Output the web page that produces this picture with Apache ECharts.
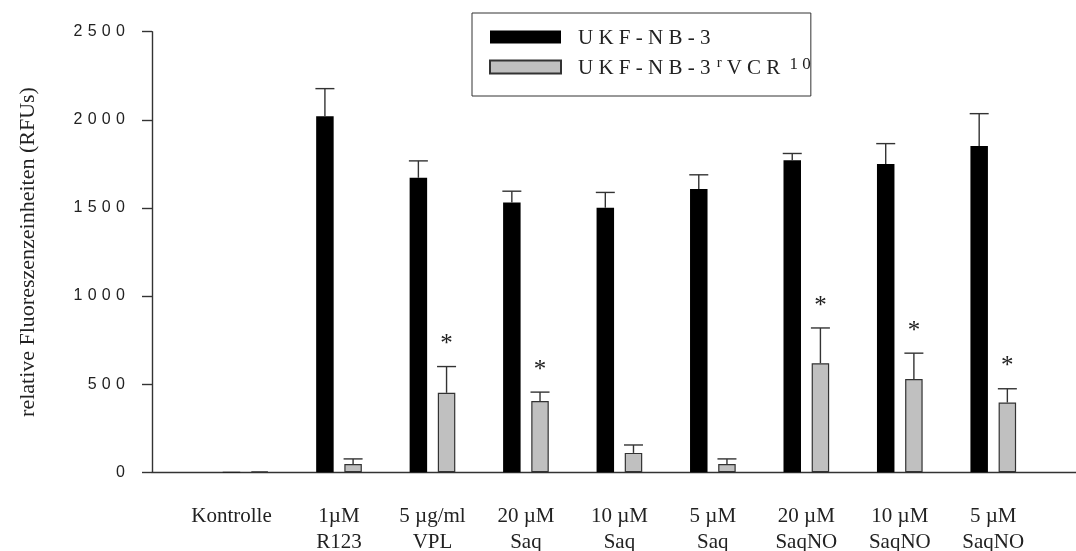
<!DOCTYPE html>
<html>
<head>
<meta charset="utf-8">
<script src="https://cdn.jsdelivr.net/npm/echarts@6/dist/echarts.min.js"></script>
<style>
html,body{margin:0;padding:0;background:#fff;}
#chart{width:1076px;height:551px;}
</style>
</head>
<body>
<div id="chart"></div>
<script>
// ---- data ----
var categories = ['Kontrolle', '1\u00b5M\nR123', '5 \u00b5g/ml\nVPL', '20 \u00b5M\nSaq', '10 \u00b5M\nSaq', '5 \u00b5M\nSaq', '20 \u00b5M\nSaqNO', '10 \u00b5M\nSaqNO', '5 \u00b5M\nSaqNO'];
var seriesNames = ['UKF-NB-3', 'UKF-NB-3rVCR10'];
var parentMean = [3, 2020, 1671, 1531, 1501, 1607, 1771, 1750, 1852];
var parentErr  = [0, 157, 96, 64, 87, 81, 38, 115, 183];
var resistMean = [5, 47, 451, 404, 110, 47, 619, 529, 396];
var resistErr  = [0, 29, 149, 51, 45, 29, 200, 147, 78];
var significant = [false, false, true, true, false, false, true, true, true];
var yTicks = [0, 500, 1000, 1500, 2000, 2500];
var yTitle = 'relative Fluoreszenzeinheiten (RFUs)';

// ---- style constants ----
var BAR_W = 17.5;
var BAR_GAP = 0.61;
var OFFSET = BAR_W * (1 + BAR_GAP) / 2;
var CAP_W = 19;
var STAR_GAP = 22;
var INK = '#333';

function errData(mean, err) {
  return mean.map(function (m, i) { return [i, m, err[i], significant[i] ? 1 : 0]; });
}

function errRender(sign, withStar) {
  return function (params, api) {
    var i = api.value(0), m = api.value(1), e = api.value(2), sig = api.value(3);
    var base = api.coord([i, m]);
    var top = api.coord([i, m + e]);
    var x = base[0] + sign * OFFSET;
    var children = [];
    if (e > 0) {
      children.push({type: 'line', shape: {x1: x, y1: base[1], x2: x, y2: top[1]}, style: {stroke: INK, lineWidth: 1.4}});
      children.push({type: 'line', shape: {x1: x - CAP_W / 2, y1: top[1], x2: x + CAP_W / 2, y2: top[1]}, style: {stroke: INK, lineWidth: 1.4}});
    }
    if (withStar && sig) {
      children.push({type: 'text', x: x, y: top[1] - STAR_GAP, style: {text: '*', fontFamily: 'Liberation Serif', fontSize: 25, fill: '#222', align: 'center', verticalAlign: 'middle'}});
    }
    return {type: 'group', children: children};
  };
}

var chart = echarts.init(document.getElementById('chart'), null, {renderer: 'canvas'});
var yMin = yTicks[0], yMax = yTicks[yTicks.length - 1], yStep = yTicks[1] - yTicks[0];

chart.setOption({
  animation: false,
  backgroundColor: '#fff',
  grid: [
    {left: 198.8, right: 36, top: 31.7, bottom: 78.7, outerBoundsMode: 'none', containLabel: false},
    {left: 152, right: 0, top: 31.7, bottom: 78.7, outerBoundsMode: 'none', containLabel: false}
  ],
  legend: {
    orient: 'vertical',
    left: 472, top: 13,
    icon: 'rect',
    itemWidth: 71, itemHeight: 13, itemGap: 6,
    padding: [12, 0, 17, 17],
    borderColor: INK, borderWidth: 1, backgroundColor: '#fff',
    selectedMode: false,
    data: seriesNames,
    formatter: function (name) {
      if (name === seriesNames[1]) return '{a|U K F - N B - 3 }{s|r}{a|V C R }{t|1 0}';
      return '{a|U K F - N B - 3}';
    },
    textStyle: {
      fontFamily: 'Liberation Serif', fontSize: 21, color: '#222', padding: [0, 0, 0, 12], lineHeight: 24,
      rich: {
        a: {fontFamily: 'Liberation Serif', fontSize: 21, color: '#222', lineHeight: 24, verticalAlign: 'bottom'},
        s: {fontFamily: 'Liberation Serif', fontSize: 15, color: '#222', lineHeight: 24, verticalAlign: 'bottom', padding: [0, 5, 8, 1]},
        t: {fontFamily: 'Liberation Serif', fontSize: 17, color: '#222', lineHeight: 24, verticalAlign: 'bottom', padding: [0, 0, 6, 4]}
      }
    }
  },
  xAxis: [
    {
      type: 'category', gridIndex: 0, data: categories,
      axisLine: {show: false}, axisTick: {show: false},
      axisLabel: {
        interval: 0, margin: 31, fontFamily: 'Liberation Serif', fontSize: 21, lineHeight: 26, color: '#222',
        formatter: function (v, idx) { return idx === 0 ? '{k|' + v + '}' : v; },
        rich: {k: {fontFamily: 'Liberation Serif', fontSize: 21, lineHeight: 26, color: '#222', padding: [0, 28, 0, 0]}}
      }
    },
    {
      type: 'value', gridIndex: 1, min: 0, max: 1,
      axisLine: {show: true, lineStyle: {color: INK, width: 1.4}},
      axisTick: {show: false}, axisLabel: {show: false}, splitLine: {show: false}
    }
  ],
  yAxis: [
    {type: 'value', gridIndex: 0, min: yMin, max: yMax, interval: yStep, show: false},
    {
      type: 'value', gridIndex: 1, min: yMin, max: yMax, interval: yStep,
      axisLine: {show: true, lineStyle: {color: INK, width: 1.4}},
      axisTick: {show: true, inside: false, length: 10, lineStyle: {color: INK, width: 1.4}},
      splitLine: {show: false},
      axisLabel: {
        margin: 27, fontFamily: 'Liberation Sans', fontSize: 16, color: '#222',
        formatter: function (v) { return String(v).split('').join('\u2004'); }
      },
      name: yTitle, nameLocation: 'middle', nameGap: 113,
      nameTextStyle: {fontFamily: 'Liberation Serif', fontSize: 22, color: '#222'}
    }
  ],
  series: [
    {
      name: seriesNames[0], type: 'bar', xAxisIndex: 0, yAxisIndex: 0,
      data: parentMean, barWidth: BAR_W, barGap: (BAR_GAP * 100) + '%',
      itemStyle: {color: '#000', borderColor: '#000', borderWidth: 0}
    },
    {
      name: seriesNames[1], type: 'bar', xAxisIndex: 0, yAxisIndex: 0,
      data: resistMean, barWidth: BAR_W, barGap: (BAR_GAP * 100) + '%',
      itemStyle: {color: '#c0c0c0', borderColor: INK, borderWidth: 1.2}
    },
    {
      type: 'custom', xAxisIndex: 0, yAxisIndex: 0, z: 5,
      renderItem: errRender(-1, false), data: errData(parentMean, parentErr),
      encode: {x: 0, y: 1}
    },
    {
      type: 'custom', xAxisIndex: 0, yAxisIndex: 0, z: 5,
      renderItem: errRender(1, true), data: errData(resistMean, resistErr),
      encode: {x: 0, y: 1}
    }
  ]
});
</script>
</body>
</html>
